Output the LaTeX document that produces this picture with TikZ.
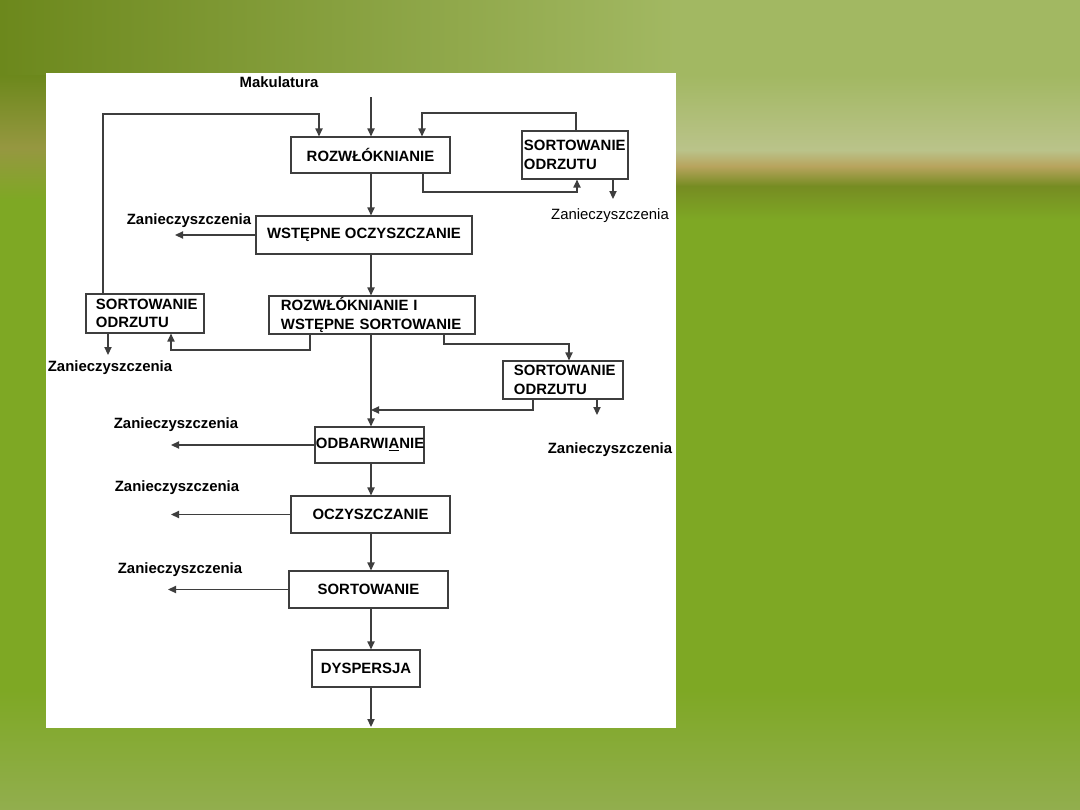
\documentclass[tikz,border=0pt]{standalone}
\usepackage{fontspec}
\setmainfont{Liberation Sans}
\usepackage{xcolor}
\usetikzlibrary{arrows.meta}
\definecolor{bgG}{RGB}{126,168,36}
\definecolor{bgO}{RGB}{108,136,28}
\definecolor{bgT}{RGB}{162,184,98}
\definecolor{bgP}{RGB}{186,195,138}
\definecolor{bgTan}{RGB}{184,164,94}
\definecolor{bgD}{RGB}{118,140,34}
\definecolor{bgB}{RGB}{146,174,78}
\definecolor{lnc}{RGB}{62,62,62}
\tikzset{
  bx/.style={draw=lnc,fill=white,line width=0.8pt,inner ysep=0pt,font=\bfseries\fontsize{10.6}{13}\selectfont},
  lbx/.style={bx,align=left},
  ar/.style={draw=lnc,line width=0.9pt,-{Triangle[length=2mm,width=1.8mm]}},
  zan/.style={font=\bfseries\fontsize{10.6}{13}\selectfont},
  zanr/.style={font=\fontsize{10.6}{13}\selectfont}
}

\begin{document}
\begin{tikzpicture}[x=0.025cm,y=-0.025cm]
\fill[bgG] (0,0) rectangle (1080,810);
\shade[left color=bgO,right color=bgT] (0,0) rectangle (676,75);
\fill[bgT] (676,0) rectangle (1080,75);
\shade[top color=bgT,bottom color=bgP] (676,75) rectangle (1080,150);
\shade[top color=bgP,bottom color=bgTan] (676,150) rectangle (1080,166);
\shade[top color=bgTan,bottom color=bgD] (676,166) rectangle (1080,186);
\shade[top color=bgD,bottom color=bgG] (676,186) rectangle (1080,220);
\shade[top color=bgO,bottom color=bgTan!55!bgO] (0,75) rectangle (46,148);
\shade[top color=bgTan!55!bgO,bottom color=bgG] (0,148) rectangle (46,200);
\shade[top color=bgG,bottom color=bgB] (0,690) rectangle (1080,810);
\fill[white] (46,73) rectangle (676,728);

\node[zan] (mak) at (279,82) {Makulatura};
\node[bx,minimum width=3.975cm,minimum height=0.9cm] (roz) at (370.5,155) {ROZWŁÓKNIANIE};
\node[lbx,text width=2.55cm,inner xsep=0.05cm,minimum height=1.2cm] (sortA) at (575,155) {SORTOWANIE\\ODRZUTU};
\node[bx,minimum width=5.4cm,minimum height=0.95cm] (wst) at (364,235) {WSTĘPNE OCZYSZCZANIE};
\node[lbx,text width=2.45cm,inner xsep=0.25cm,minimum height=0.975cm] (sortB) at (145,313.5) {SORTOWANIE\\ODRZUTU};
\node[lbx,text width=4.55cm,inner xsep=0.3cm,minimum height=0.95cm] (roz2) at (372,315) {ROZWŁÓKNIANIE I\\WSTĘPNE SORTOWANIE};
\node[lbx,text width=2.45cm,inner xsep=0.275cm,minimum height=0.95cm] (sortC) at (563,380) {SORTOWANIE\\ODRZUTU};
\node[lbx,text width=2.675cm,inner xsep=0.025cm,minimum height=0.9cm] (odb) at (369.5,445) {ODBARWI\underline{A}NIE};
\node[bx,minimum width=3.975cm,minimum height=0.925cm] (ocz) at (370.5,514.5) {OCZYSZCZANIE};
\node[bx,minimum width=3.975cm,minimum height=0.925cm] (sort) at (368.5,589.5) {SORTOWANIE};
\node[bx,minimum width=2.7cm,minimum height=0.925cm] (dys) at (366,668.5) {DYSPERSJA};

\node[zanr] (z1) at (610,216) {Zanieczyszczenia};
\node[zan] (z2) at (189,221) {Zanieczyszczenia};
\node[zan] (z3) at (110,368) {Zanieczyszczenia};
\node[zan] (z4) at (176,425) {Zanieczyszczenia};
\node[zan] (z5) at (610,450) {Zanieczyszczenia};
\node[zan] (z6) at (177,488) {Zanieczyszczenia};
\node[zan] (z7) at (180,570) {Zanieczyszczenia};

\coordinate (in) at (371,97);
\coordinate (c1) at (103,114); \coordinate (c2) at (319,114);
\coordinate (c3) at (576,113); \coordinate (c4) at (422,113);
\coordinate (c5) at (423,192); \coordinate (c6) at (577,192);
\coordinate (c7) at (310,350); \coordinate (c8) at (171,350);
\coordinate (c9) at (444,344); \coordinate (c10) at (569,344);
\coordinate (c11) at (533,410);
\coordinate (e1) at (613,199); \coordinate (e2) at (175,235);
\coordinate (e3) at (108,355); \coordinate (e4) at (597,415);
\coordinate (e5) at (171,447); \coordinate (e6) at (168,591);
\coordinate (out) at (371,727);

% main line
\draw[ar] (in) -- (in |- roz.north);
\draw[ar] (roz.south -| in) -- (in |- wst.north);
\draw[ar] (wst.south -| in) -- (in |- roz2.north);
\draw[ar] (roz2.south -| in) -- (in |- odb.north);
\draw[ar] (odb.south -| in) -- (in |- ocz.north);
\draw[ar] (ocz.south -| in) -- (in |- sort.north);
\draw[ar] (sort.south -| in) -- (in |- dys.north);
\draw[ar] (dys.south -| in) -- (out);

% odrzut loops
\draw[ar] (sortB.north -| c1) -- (c1) -- (c2) -- (c2 |- roz.north);
\draw[ar] (sortA.north -| c3) -- (c3) -- (c4) -- (c4 |- roz.north);
\draw[ar] (roz.south -| c5) -- (c5) -- (c6) -- (c6 |- sortA.south);
\draw[ar] (roz2.south -| c7) -- (c7) -- (c8) -- (c8 |- sortB.south);
\draw[ar] (roz2.south -| c9) -- (c9) -- (c10) -- (c10 |- sortC.north);
\draw[ar] (sortC.south -| c11) -- (c11) -- (c11 -| in);

% zanieczyszczenia
\draw[ar] (sortA.south -| e1) -- (e1);
\draw[ar] (wst.west) -- (e2);
\draw[ar] (sortB.south -| e3) -- (e3);
\draw[ar] (sortC.south -| e4) -- (e4);
\draw[ar] (odb.west) -- (odb.west -| e5);
\draw[ar] (ocz.west) -- (ocz.west -| e5);
\draw[ar] (sort.west) -- (sort.west -| e6);
\end{tikzpicture}
\end{document}
